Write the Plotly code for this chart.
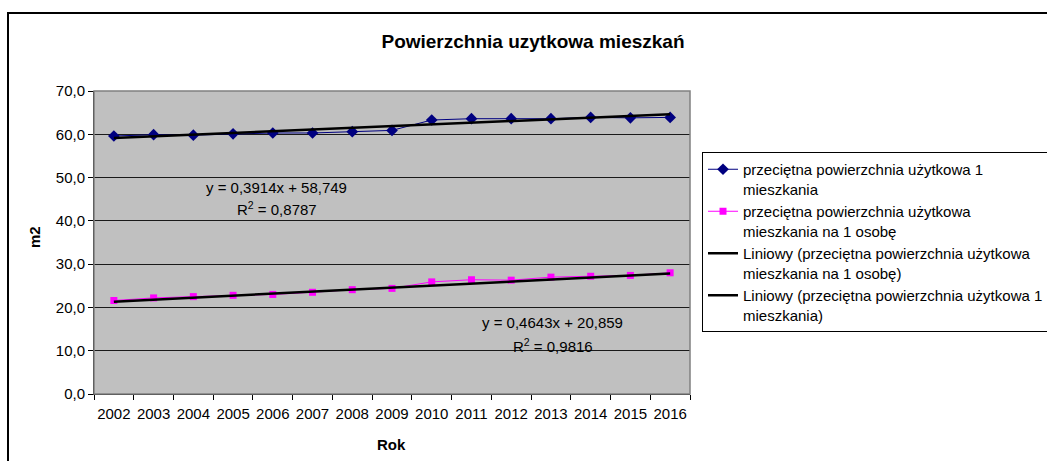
import plotly.graph_objects as go

# ---- data ----
years = ["2002", "2003", "2004", "2005", "2006", "2007", "2008", "2009",
         "2010", "2011", "2012", "2013", "2014", "2015", "2016"]
per_dwelling = [59.6, 59.9, 59.8, 60.1, 60.3, 60.3, 60.6, 60.9,
                63.3, 63.6, 63.6, 63.6, 63.9, 63.8, 63.9]
per_person = [21.6, 22.2, 22.5, 22.8, 23.0, 23.5, 24.1, 24.4,
              25.9, 26.4, 26.3, 27.0, 27.2, 27.4, 28.0]
# linear trend coefficients printed on the chart (slope, intercept)
trend_dwelling_coef = [0.3914, 58.749]
trend_person_coef = [0.4643, 20.859]
y_ticks = [0, 10, 20, 30, 40, 50, 60, 70]

name_dwelling = "przeciętna powierzchnia użytkowa 1<br>mieszkania"
name_person = "przeciętna powierzchnia użytkowa<br>mieszkania na 1 osobę"
name_trend_person = "Liniowy (przeciętna powierzchnia użytkowa<br>mieszkania na 1 osobę)"
name_trend_dwelling = "Liniowy (przeciętna powierzchnia użytkowa 1<br>mieszkania)"

idx = list(range(1, len(years) + 1))
trend_dwelling = [trend_dwelling_coef[0] * i + trend_dwelling_coef[1] for i in idx]
trend_person = [trend_person_coef[0] * i + trend_person_coef[1] for i in idx]

FONT = "Liberation Sans, Arial, sans-serif"

fig = go.Figure()
fig.add_trace(go.Scatter(
    x=years, y=per_dwelling, name=name_dwelling, mode="lines+markers",
    line=dict(color="#000080", width=1),
    marker=dict(symbol="diamond", size=9, color="#000080")))
fig.add_trace(go.Scatter(
    x=years, y=per_person, name=name_person, mode="lines+markers",
    line=dict(color="#FF00FF", width=1),
    marker=dict(symbol="square", size=7, color="#FF00FF")))
fig.add_trace(go.Scatter(
    x=years, y=trend_person, name=name_trend_person, mode="lines",
    line=dict(color="black", width=2.5)))
fig.add_trace(go.Scatter(
    x=years, y=trend_dwelling, name=name_trend_dwelling, mode="lines",
    line=dict(color="black", width=2.5)))

W, H = 1047, 461
L, R, T, B = 94, 357, 91, 67
pw, ph = W - L - R, H - T - B


def px(xp):
    return (xp - L) / pw


def py(yp):
    return (H - B - yp) / ph


def label(text, x, y, angle=0):
    return dict(text=text, xref="paper", yref="paper", x=px(x), y=py(y),
                xanchor="center", yanchor="middle", textangle=angle,
                showarrow=False, font=dict(family=FONT, size=15, color="black"))


fig.update_layout(
    width=W, height=H,
    margin=dict(l=L, r=R, t=T, b=B, autoexpand=False),
    paper_bgcolor="white",
    plot_bgcolor="#C0C0C0",
    separators=", ",
    font=dict(family=FONT, size=15, color="black"),
    title=dict(text="<b>Powierzchnia uzytkowa mieszkań</b>",
               x=533 / W, xanchor="center", y=1 - 41 / H, yanchor="middle",
               font=dict(family=FONT, size=19, color="black")),
    showlegend=True,
    legend=dict(x=px(702), y=py(152), xanchor="left", yanchor="top",
                bgcolor="white", bordercolor="black", borderwidth=1,
                font=dict(family=FONT, size=15, color="black"),
                valign="top", traceorder="normal", tracegroupgap=0),
    xaxis=dict(type="category", range=[-0.5, len(years) - 0.5],
               tickson="boundaries", ticks="outside",
               ticklen=5, tickcolor="black", showline=True, linecolor="black",
               linewidth=1, showgrid=False, zeroline=False, tickangle=0,
               ticklabelstandoff=6,
               tickfont=dict(family=FONT, size=15), fixedrange=True),
    yaxis=dict(range=[0, 70], tickvals=y_ticks, tickformat=".1f",
               ticks="outside", ticklen=5, tickcolor="black",
               showline=True, linecolor="black", linewidth=1,
               showgrid=True, gridcolor="#1a1a1a", gridwidth=1,
               zeroline=False, tickfont=dict(family=FONT, size=15),
               fixedrange=True),
    shapes=[
        # plot-area border (grey, top/right)
        dict(type="rect", xref="paper", yref="paper", x0=0, x1=1, y0=0, y1=1,
             line=dict(color="#808080", width=1.5), layer="above"),
        # outer chart border
        dict(type="rect", xref="paper", yref="paper",
             x0=px(8), x1=px(1100), y0=py(500), y1=py(13),
             line=dict(color="black", width=2), layer="above"),
    ],
    annotations=[
        label("<b>m2</b>", 35, 237, -90),
        label("<b>Rok</b>", 391, 444),
        label("y = 0,3914x + 58,749", 276, 187),
        label("R<sup>2</sup> = 0,8787", 277, 208),
        label("y = 0,4643x + 20,859", 552, 322),
        label("R<sup>2</sup> = 0,9816", 553, 345),
    ],
)

fig.write_html("out.html",
               config={"displayModeBar": False},
               post_script="document.body.style.margin='0';"
                           "document.body.style.overflow='hidden';")
